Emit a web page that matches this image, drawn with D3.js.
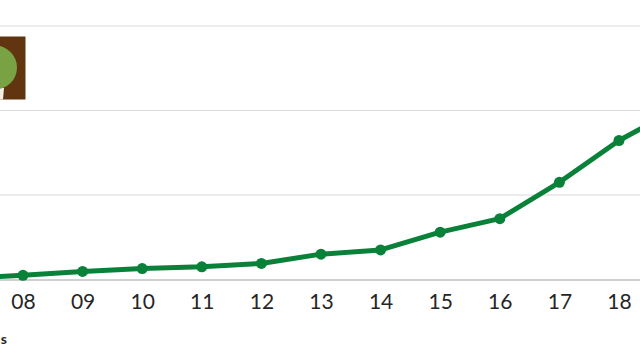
<!DOCTYPE html>
<html>
<head>
<meta charset="utf-8">
<script src="https://cdn.jsdelivr.net/npm/d3@7"></script>
<style>
html, body { margin: 0; padding: 0; background: #fff; overflow: hidden; }
svg { display: block; }
text { font-family: Lato, sans-serif; }
</style>
</head>
<body>
<div id="container"></div>
<script>
// values, gridlines taken as 100 apart
const years = ["07", "08", "09", "10", "11", "12", "13", "14", "15", "16", "17", "18", "19"];
const values = [1, 5, 9.5, 13, 15, 19, 30, 35, 56, 72, 115, 164.5, 203];
const tickLabels = ["08", "09", "10", "11", "12", "13", "14", "15", "16", "17", "18"];
const gridValues = [100, 200, 300];

const width = 640;
const height = 360;

const svg = d3.select("#container").append("svg")
    .attr("width", width)
    .attr("height", height);

const xScale = d3.scalePoint()
    .domain(years)
    .range([-36.6, 678.6]);

const yScale = d3.scaleLinear()
    .domain([0, 300])
    .range([279.5, 26]);

svg.selectAll(".grid")
    .data(gridValues)
    .enter().append("line")
    .attr("class", "grid")
    .attr("x1", 0)
    .attr("x2", width)
    .attr("y1", d => yScale(d))
    .attr("y2", d => yScale(d))
    .attr("stroke", "#d9d9d9")
    .attr("stroke-width", 1.2);

const xAxis = svg.append("g")
    .attr("class", "x-axis")
    .attr("transform", `translate(0, ${yScale(0)})`)
    .call(d3.axisBottom(xScale).tickValues(tickLabels).tickSize(0).tickPadding(15));

xAxis.select(".domain")
    .attr("stroke", "#a0a0a0")
    .attr("stroke-width", 1);

xAxis.selectAll("text")
    .style("font-size", "21px")
    .attr("fill", "#262626");

// logo cut off by the left edge
const logo = svg.append("g").attr("class", "logo");
logo.append("rect")
    .attr("x", 0).attr("y", 36.5)
    .attr("width", 25.5).attr("height", 63)
    .attr("fill", "#61350f");
logo.append("path")
    .attr("d", "M0,88 L4,88 L3,99.5 L0,99.5 Z")
    .attr("fill", "#f4efe6");
logo.append("circle")
    .attr("cx", -5).attr("cy", 67.5).attr("r", 22)
    .attr("fill", "#79a244");

const line = d3.line()
    .x(d => xScale(d.year))
    .y(d => yScale(d.value));

const points = years.map((year, i) => ({ year: year, value: values[i] }));

svg.append("path")
    .attr("d", line(points))
    .attr("fill", "none")
    .attr("stroke", "#0a8139")
    .attr("stroke-width", 5)
    .attr("stroke-linejoin", "round");

svg.selectAll(".dot")
    .data(points)
    .enter().append("circle")
    .attr("class", "dot")
    .attr("cx", d => xScale(d.year))
    .attr("cy", d => yScale(d.value))
    .attr("r", 5.5)
    .attr("fill", "#0a8139");

// tail of a source line, the rest is outside the frame
svg.append("text")
    .attr("x", 7)
    .attr("y", 344)
    .attr("text-anchor", "end")
    .style("font-size", "14px")
    .style("font-weight", "bold")
    .attr("fill", "#262626")
    .text("s");
</script>
</body>
</html>
